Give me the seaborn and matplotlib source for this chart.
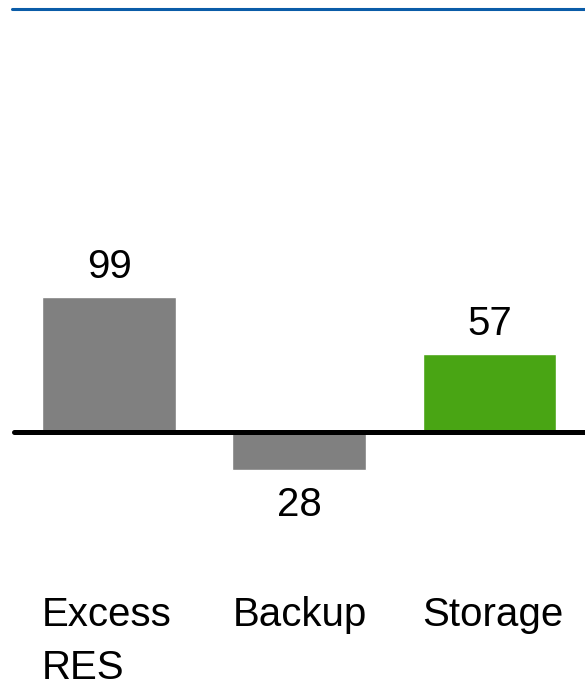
import matplotlib
matplotlib.use("Agg")
import matplotlib.pyplot as plt
import seaborn as sns
import pandas as pd

# Balance components (positive above the line, negative below)
categories = ["Excess\nRES", "Backup", "Storage"]
values = [99, -28, 57]
value_labels = ["99", "28", "57"]
bar_colors = ["#808080", "#808080", "#49a514"]

sns.set_theme(style="white")
plt.rcParams["font.family"] = ["Liberation Sans", "DejaVu Sans"]

df = pd.DataFrame({"category": categories, "value": values})

fig = plt.figure(figsize=(5.85, 6.92), dpi=100)
ax = fig.add_axes([0, 0, 1, 1])

sns.barplot(data=df, x="category", y="value", hue="category",
            palette=dict(zip(categories, bar_colors)), legend=False,
            width=0.704, saturation=1, ax=ax)

ax.set_xlim(-0.573, 2.502)
ax.set_ylim(-191.5, 317.3)
ax.axis("off")

# Zero baseline and top rule
ax.axhline(0, xmin=14 / 585, xmax=1, color="black", lw=3.6, zorder=5)
ax.axhline(311, xmin=12 / 585, xmax=1, color="#0a5ca8", lw=2.2, zorder=5)

fs = 29
for i, (v, lab) in enumerate(zip(values, value_labels)):
    if v >= 0:
        ax.annotate(lab, (i, v), xytext=(0, 13.5), textcoords="offset points",
                    ha="center", va="baseline", fontsize=fs, color="black")
    else:
        ax.annotate(lab, (i, v), xytext=(0, -12), textcoords="offset points",
                    ha="center", va="top", fontsize=fs, color="black")

for i, cat in enumerate(categories):
    ax.text(i - 0.352, -121, cat, ha="left", va="top", fontsize=fs,
            color="black", linespacing=1.5)

fig.savefig("out.png", dpi=100)
